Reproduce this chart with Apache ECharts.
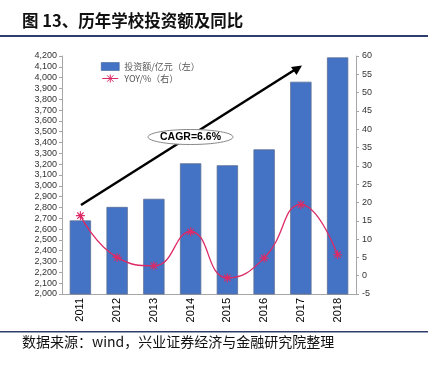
<!DOCTYPE html>
<html><head><meta charset="utf-8">
<script src="https://cdn.jsdelivr.net/npm/echarts@6/dist/echarts.min.js"></script>
<style>html,body{margin:0;padding:0;background:#fff}#c{width:428px;height:366px}</style>
</head><body><div id="c"></div>
<script>
const years = ['2011','2012','2013','2014','2015','2016','2017','2018'];
const investment = [2680, 2805, 2880, 3208, 3190, 3337, 3962, 4187];
const yoy = [16.4, 5.0, 2.7, 12.0, -0.6, 4.8, 19.4, 5.7];
const seriesNames = ['投资额/亿元（左）', 'YOY/%（右）'];
const titleText = '图 13、历年学校投资额及同比';
const sourceText = '数据来源：wind，兴业证券经济与金融研究院整理';
const cagrText = 'CAGR=6.6%';

const chart = echarts.init(document.getElementById('c'), null, {renderer: 'canvas'});
const axisGray = '#a6a6a6';
const lineColor = '#DC2A66';
const star = 'path://M5,0 L5,10 M0,5 L10,5 M1.5,1.5 L8.5,8.5 M8.5,1.5 L1.5,8.5';
const legendStar = 'path://M0,5 L20,5 M10,0 L10,10 M6,1 L14,9 M14,1 L6,9';
chart.setOption({
  animation: false,
  backgroundColor: '#fff',
  textStyle: {fontFamily: 'Liberation Sans, Arial, sans-serif'},
  grid: {left: 62, right: 72, top: 56, bottom: 72},
  legend: {
    left: 96, top: 57, orient: 'vertical', itemGap: 3,
    itemWidth: 18, itemHeight: 8,
    textStyle: {fontSize: 9, color: '#555', fontFamily: 'Noto Sans CJK SC'},
    data: [
      {name: seriesNames[0], icon: 'rect', itemStyle: {borderColor: '#2f528f', borderWidth: 0.5}},
      {name: seriesNames[1], icon: legendStar, itemStyle: {color: 'rgba(0,0,0,0)', borderColor: lineColor, borderWidth: 1}}
    ]
  },
  graphic: [
    {type: 'text', left: 22, top: 12, style: {text: titleText, font: 'bold 16.5px "Noto Sans CJK SC"', fill: '#111'}},
    {type: 'rect', shape: {x: 0, y: 35, width: 428, height: 2}, style: {fill: '#2E3D6B'}},
    {type: 'rect', shape: {x: 0, y: 331, width: 428, height: 1.5}, style: {fill: '#2E3D6B'}},
    {type: 'text', left: 22, top: 335, style: {text: sourceText, font: '14px "Noto Sans CJK SC"', fill: '#111'}},
    {type: 'line', shape: {x1: 81, y1: 205, x2: 296, y2: 69}, style: {stroke: '#000', lineWidth: 2.5}},
    {type: 'polygon', shape: {points: [[302, 65.5], [291, 67], [296.5, 75]]}, style: {fill: '#000'}},
    {type: 'ellipse', shape: {cx: 190.5, cy: 137, rx: 42.5, ry: 7.5}, style: {fill: '#fff', stroke: '#888', lineWidth: 1}, z: 10},
    {type: 'text', x: 190.5, y: 137, style: {text: cagrText, font: 'bold 10.5px "Liberation Sans", Arial', fill: '#000', align: 'center', verticalAlign: 'middle'}, z: 11}
  ],
  xAxis: {
    type: 'category', data: years, boundaryGap: true,
    axisLine: {onZero: false, lineStyle: {color: axisGray}},
    axisTick: {show: false},
    axisLabel: {rotate: 90, fontSize: 11, color: '#000', margin: 4}
  },
  yAxis: [
    {
      type: 'value', min: 2000, max: 4200, interval: 100, position: 'left',
      splitLine: {show: false},
      axisLine: {show: true, onZero: false, lineStyle: {color: axisGray}},
      axisTick: {show: true, length: 3, lineStyle: {color: axisGray}},
      axisLabel: {fontSize: 9, color: '#333', margin: 5,
        formatter: v => v.toString().replace(/\B(?=(\d{3})+(?!\d))/g, ',')}
    },
    {
      type: 'value', min: -5, max: 60, interval: 5, position: 'right',
      splitLine: {show: false},
      axisLine: {show: true, onZero: false, lineStyle: {color: axisGray}},
      axisTick: {show: true, length: 3, lineStyle: {color: axisGray}},
      axisLabel: {fontSize: 9, color: '#333', margin: 6}
    }
  ],
  series: [
    {
      name: seriesNames[0], type: 'bar', data: investment, yAxisIndex: 0,
      barWidth: '58%',
      itemStyle: {color: '#4472C4', borderColor: '#5a6f96', borderWidth: 0.8}
    },
    {
      name: seriesNames[1], type: 'line', data: yoy, yAxisIndex: 1, smooth: 0.5,
      symbol: star, symbolSize: 9, showAllSymbol: true, z: 5,
      lineStyle: {color: lineColor, width: 1.3},
      itemStyle: {color: 'rgba(0,0,0,0)', borderColor: lineColor, borderWidth: 1.1}
    }
  ]
});
</script></body></html>
